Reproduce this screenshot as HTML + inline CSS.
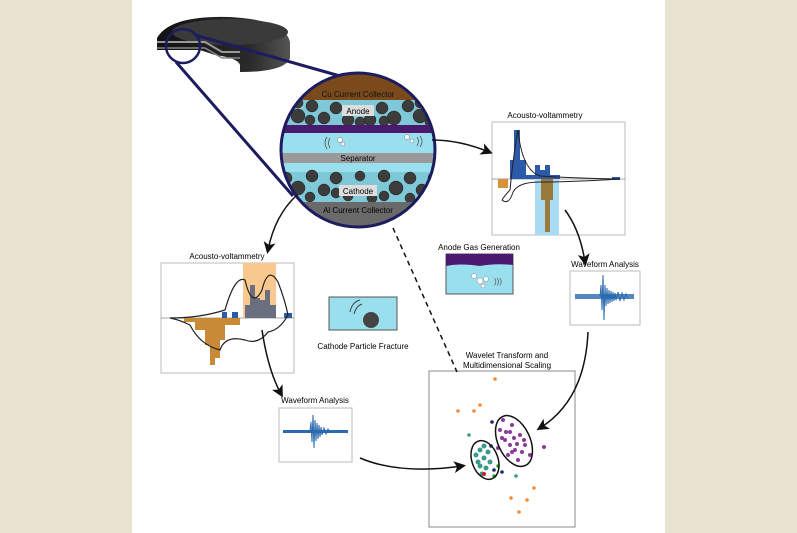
<!DOCTYPE html>
<html><head><meta charset="utf-8"><style>
html,body{margin:0;padding:0;background:#e9e4cf;}
svg{display:block;}
text{font-family:"Liberation Sans",sans-serif;}
</style></head><body>
<svg width="797" height="533" viewBox="0 0 797 533" xmlns="http://www.w3.org/2000/svg">
<defs>
<marker id="ah" markerWidth="12" markerHeight="12" refX="8" refY="6" orient="auto" markerUnits="userSpaceOnUse"><path d="M0,0 L12,6 L0,12 L3,6 Z" fill="#111"/></marker>
<clipPath id="cc"><circle cx="358" cy="150" r="77"/></clipPath>
<linearGradient id="bat" x1="0" x2="1"><stop offset="0" stop-color="#111"/><stop offset="0.7" stop-color="#2a2a2a"/><stop offset="1" stop-color="#555"/></linearGradient>
</defs>
<rect x="0" y="0" width="797" height="533" fill="#e9e4cf"/>
<rect x="132" y="0" width="533" height="533" fill="#fff"/>

<!-- battery -->
<path d="M157,38 Q170,15 230,17 Q285,20 290,42 L290,58 Q285,72 240,72 L240,65 Q238,58 215,55 L200,50 L157,50 Z" fill="url(#bat)"/>
<ellipse cx="230" cy="32" rx="58" ry="13" fill="#3a3a3a"/>
<path d="M157,42 L205,42 L222,52 L240,52" stroke="#999" stroke-width="2" fill="none"/>
<path d="M157,48 L205,48 L222,58 L240,58" stroke="#888" stroke-width="1.5" fill="none"/>
<circle cx="183" cy="46" r="17" fill="none" stroke="#1c1c5e" stroke-width="2.5"/>
<line x1="195" y1="35" x2="340" y2="76" stroke="#1c1c5e" stroke-width="3"/>
<line x1="176" y1="62" x2="293" y2="196" stroke="#1c1c5e" stroke-width="3"/>

<!-- big circle -->
<g clip-path="url(#cc)">
<rect x="270" y="60" width="180" height="180" fill="#9adfee"/>
<rect x="270" y="60" width="180" height="40" fill="#7a4a1c"/>
<rect x="270" y="100" width="180" height="26" fill="#7fc8d8"/>
<g fill="#3c3c3c" stroke="#222" stroke-width="0.5">
<circle cx="286" cy="106" r="6"/><circle cx="298" cy="116" r="7"/><circle cx="312" cy="106" r="6"/><circle cx="324" cy="118" r="6"/><circle cx="336" cy="108" r="6"/><circle cx="348" cy="120" r="6"/><circle cx="370" cy="120" r="6"/><circle cx="382" cy="108" r="6"/><circle cx="394" cy="118" r="7"/><circle cx="408" cy="106" r="6"/><circle cx="420" cy="116" r="7"/><circle cx="432" cy="106" r="6"/><circle cx="360" cy="122" r="5"/><circle cx="310" cy="120" r="5"/><circle cx="384" cy="121" r="5"/><circle cx="430" cy="122" r="5"/><circle cx="298" cy="103" r="5"/><circle cx="420" cy="103" r="5"/>
</g>
<rect x="270" y="125" width="180" height="8" fill="#4b1a6e"/>
<rect x="270" y="153" width="180" height="10" fill="#9a9a9a"/>
<rect x="270" y="172" width="180" height="30" fill="#7fc8d8"/>
<g fill="#3c3c3c" stroke="#222" stroke-width="0.5">
<circle cx="286" cy="178" r="6"/><circle cx="298" cy="188" r="7"/><circle cx="312" cy="176" r="6"/><circle cx="324" cy="190" r="6"/><circle cx="336" cy="178" r="6"/><circle cx="348" cy="196" r="5"/><circle cx="384" cy="176" r="6"/><circle cx="396" cy="188" r="7"/><circle cx="410" cy="178" r="6"/><circle cx="422" cy="190" r="6"/><circle cx="434" cy="178" r="6"/><circle cx="290" cy="198" r="5"/><circle cx="372" cy="198" r="5"/><circle cx="410" cy="198" r="5"/><circle cx="310" cy="197" r="5"/><circle cx="336" cy="193" r="5"/><circle cx="360" cy="176" r="5"/><circle cx="424" cy="200" r="4"/><circle cx="384" cy="196" r="5"/>
</g>
<rect x="270" y="202" width="180" height="40" fill="#6a6a6a"/>
</g>
<circle cx="358" cy="150" r="77" fill="none" stroke="#1c1c5e" stroke-width="3"/>
<g font-size="8" text-anchor="middle">
<text x="358" y="97" fill="#111">Cu Current Collector</text>
<rect x="342" y="105" width="32" height="11" fill="#ddd"/><text x="358" y="114">Anode</text>
<text x="358" y="161">Separator</text>
<rect x="339" y="185" width="38" height="11" fill="#ddd"/><text x="358" y="194">Cathode</text>
<text x="358" y="213">Al Current Collector</text>
</g>
<g fill="#fff" stroke="#777" stroke-width="0.5"><circle cx="340" cy="140" r="2.5"/><circle cx="343" cy="144" r="2"/><circle cx="407" cy="137" r="2.5"/><circle cx="412" cy="141" r="2"/></g>
<g stroke="#555" fill="none" stroke-width="0.8"><path d="M330,138 Q327,143 330,148 M327,137 Q323,143 327,149"/><path d="M417,137 Q420,141 417,146 M420,136 Q424,141 420,147"/></g>

<!-- right acousto -->
<text x="545" y="118" font-size="8" text-anchor="middle">Acousto-voltammetry</text>
<rect x="492" y="122" width="133" height="113" fill="#fff" stroke="#bbb"/>
<rect x="535" y="180" width="24" height="55" fill="#a9dcf2"/>
<line x1="492" y1="179" x2="625" y2="179" stroke="#888" stroke-width="0.8"/>
<path d="M510,179 V160 H514 V130 H520 V160 H526 V175 H535 V165 H540 V170 H545 V165 H550 V175 H560 V179 Z" fill="#2a5aa8"/>
<rect x="612" y="177" width="8" height="3" fill="#2a5aa8"/>
<path d="M541,179 V200 H545 V232 H550 V200 H553 V179 Z" fill="#9a7a3a"/>
<rect x="498" y="179" width="10" height="9" fill="#d8923a"/>
<path d="M502,200 Q505,195 510,190 Q514,150 518,130 Q522,170 540,176 Q570,178 620,179 Q570,182 540,182 Q515,182 512,195 Q508,205 502,200 Z" fill="none" stroke="#222" stroke-width="1"/>

<!-- anode gas -->
<text x="479" y="250" font-size="8" text-anchor="middle">Anode Gas Generation</text>
<rect x="446" y="254" width="67" height="40" fill="#9adfee" stroke="#555"/>
<path d="M446,254 H513 V265 Q495,263 480,266 Q460,263 446,266 Z" fill="#4b1a6e"/>
<g fill="#fff" stroke="#888" stroke-width="0.5"><circle cx="474" cy="276" r="2.5"/><circle cx="480" cy="281" r="3"/><circle cx="486" cy="279" r="2.5"/><circle cx="483" cy="286" r="2"/></g>
<text x="494" y="284" font-size="8" fill="#555">)))</text>

<!-- right waveform -->
<text x="605" y="267" font-size="8" text-anchor="middle">Waveform Analysis</text>
<rect x="570" y="271" width="70" height="54" fill="#fff" stroke="#bbb"/>
<rect x="575" y="294" width="59" height="5" fill="#2a6ab0" opacity="0.8"/>
<path d="M600,297 L601,285 L602,310 L603,275 L604,320 L605,285 L606,306 L607,288 L608,304 L609,290 L610,303 L611,291 L612,302 L613,292 L614,301 L615,293 L616,300 L618,292 L620,301 L622,293 L624,300 L626,294 L628,299" stroke="#2a6ab0" stroke-width="1" fill="none"/>

<!-- left acousto -->
<text x="227" y="259" font-size="8" text-anchor="middle">Acousto-voltammetry</text>
<rect x="161" y="263" width="133" height="110" fill="#fff" stroke="#bbb"/>
<rect x="243" y="263" width="33" height="54" fill="#f9c88e"/>
<line x1="161" y1="318" x2="294" y2="318" stroke="#888" stroke-width="0.8"/>
<path d="M184,318 V322 H195 V330 H205 V345 H210 V365 H215 V358 H220 V340 H225 V325 H240 V318 Z" fill="#c88a35"/>
<path d="M245,318 V305 H250 V285 H255 V298 H260 V300 H265 V290 H270 V305 H276 V318 Z" fill="#6a6f7f"/>
<path d="M222,318 V312 H227 V318 Z M232,318 V312 H238 V318 Z M284,318 V313 H292 V318 Z" fill="#2a5aa8"/>
<path d="M170,318 Q200,318 225,310 Q235,275 245,280 Q252,310 262,290 Q268,265 278,282 Q285,300 288,315 Q280,330 268,332 Q258,345 245,340 Q225,335 220,350 Q200,345 190,325 Q180,320 170,318" fill="none" stroke="#222" stroke-width="1.2"/>

<!-- cathode fracture -->
<rect x="329" y="297" width="68" height="33" fill="#9adfee" stroke="#555"/>
<circle cx="371" cy="320" r="8" fill="#444"/>
<path d="M350,312 Q352,302 360,300 M354,314 Q356,306 362,304" stroke="#444" fill="none"/>
<text x="363" y="349" font-size="8" text-anchor="middle">Cathode Particle Fracture</text>

<!-- left waveform -->
<text x="315" y="403" font-size="8" text-anchor="middle">Waveform Analysis</text>
<rect x="279" y="408" width="73" height="54" fill="#fff" stroke="#bbb"/>
<rect x="283" y="430" width="65" height="3" fill="#2a6ab0"/>
<path d="M310,431 L311,422 L312,442 L313,415 L314,448 L315,420 L316,441 L317,423 L318,439 L319,425 L320,437 L321,427 L322,435 L324,428 L326,434 L328,429 L330,433" stroke="#2a6ab0" stroke-width="1" fill="none"/>

<!-- scatter -->
<text x="507" y="358" font-size="8" text-anchor="middle">Wavelet Transform and</text>
<text x="507" y="368" font-size="8" text-anchor="middle">Multidimensional Scaling</text>
<rect x="429" y="371" width="146" height="156" fill="#fff" stroke="#888"/>
<g fill="#f28a3a"><circle cx="495" cy="379" r="1.8"/><circle cx="480" cy="405" r="1.8"/><circle cx="458" cy="411" r="1.8"/><circle cx="474" cy="411" r="1.8"/><circle cx="534" cy="488" r="1.8"/><circle cx="511" cy="498" r="1.8"/><circle cx="527" cy="500" r="1.8"/><circle cx="519" cy="512" r="1.8"/></g>
<g fill="#8a3a9a">
<circle cx="500" cy="430" r="2"/><circle cx="505" cy="440" r="2"/><circle cx="510" cy="445" r="2"/><circle cx="515" cy="450" r="2"/><circle cx="520" cy="435" r="2"/><circle cx="512" cy="425" r="2"/><circle cx="508" cy="455" r="2"/><circle cx="498" cy="448" r="2"/><circle cx="518" cy="460" r="2"/><circle cx="525" cy="445" r="2"/><circle cx="503" cy="420" r="2"/><circle cx="530" cy="455" r="2"/><circle cx="544" cy="447" r="2"/><circle cx="506" cy="432" r="2"/><circle cx="514" cy="438" r="2"/><circle cx="522" cy="452" r="2"/><circle cx="510" cy="432" r="2"/><circle cx="502" cy="438" r="2"/><circle cx="517" cy="444" r="2"/><circle cx="512" cy="452" r="2"/><circle cx="524" cy="440" r="2"/>
</g>
<ellipse cx="514" cy="441" rx="16" ry="27" transform="rotate(-25 514 441)" fill="none" stroke="#111" stroke-width="1.5"/>
<g fill="#3a9a8a"><circle cx="480" cy="450" r="2.5"/><circle cx="484" cy="458" r="2.5"/><circle cx="478" cy="462" r="2.5"/><circle cx="486" cy="468" r="2.5"/><circle cx="482" cy="474" r="2.5"/><circle cx="476" cy="455" r="2.5"/><circle cx="488" cy="452" r="2.5"/><circle cx="480" cy="466" r="2.5"/><circle cx="484" cy="446" r="2.5"/><circle cx="490" cy="462" r="2.5"/><circle cx="469" cy="435" r="1.8"/><circle cx="516" cy="476" r="1.8"/></g>
<g fill="#1a2a6a"><circle cx="491" cy="446" r="1.8"/><circle cx="494" cy="470" r="1.8"/><circle cx="502" cy="472" r="1.8"/><circle cx="492" cy="422" r="1.8"/></g>
<g fill="#2aaa2a"><circle cx="498" cy="466" r="1.8"/><circle cx="494" cy="476" r="1.8"/></g>
<circle cx="484" cy="474" r="2" fill="#d02020"/>
<ellipse cx="485" cy="460" rx="13" ry="20" transform="rotate(-20 485 460)" fill="none" stroke="#111" stroke-width="1.5"/>

<!-- arrows (on top) -->
<path d="M432,140 Q460,140 489,152" stroke="#111" stroke-width="1.5" fill="none" marker-end="url(#ah)"/>
<path d="M297,195 Q275,215 268,250" stroke="#111" stroke-width="1.5" fill="none" marker-end="url(#ah)"/>
<path d="M262,330 Q268,370 281,394" stroke="#111" stroke-width="1.5" fill="none" marker-end="url(#ah)"/>
<path d="M565,210 Q580,230 585,262" stroke="#111" stroke-width="1.5" fill="none" marker-end="url(#ah)"/>
<path d="M588,332 Q585,400 540,428" stroke="#111" stroke-width="1.5" fill="none" marker-end="url(#ah)"/>
<path d="M360,458 Q400,475 462,466" stroke="#111" stroke-width="1.5" fill="none" marker-end="url(#ah)"/>
<line x1="393" y1="228" x2="457" y2="372" stroke="#111" stroke-width="1.5" stroke-dasharray="5,4"/>
</svg>
</body></html>
